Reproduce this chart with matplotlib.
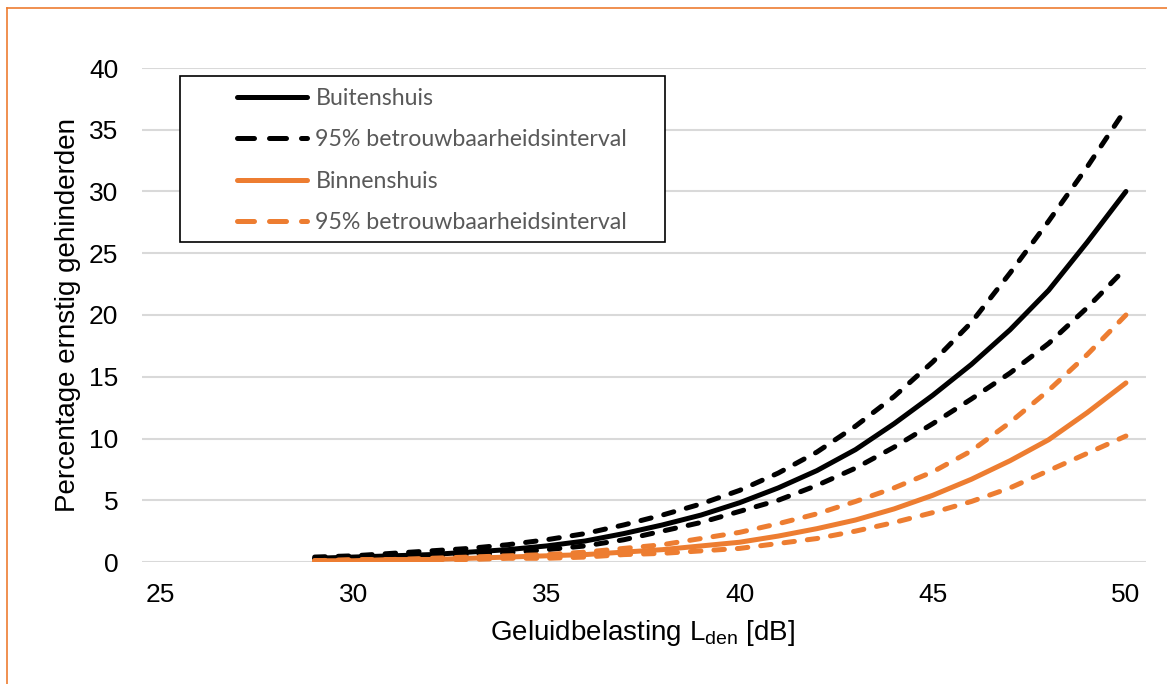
import numpy as np
import matplotlib
matplotlib.use('Agg')
import matplotlib.pyplot as plt
from matplotlib.lines import Line2D
from matplotlib.patches import Rectangle

# ---------------------------------------------------------------------------
# Data
# ---------------------------------------------------------------------------
lden = [29, 30, 31, 32, 33, 34, 35, 36, 37, 38, 39, 40,
        41, 42, 43, 44, 45, 46, 47, 48, 49, 50]

buiten = [0.3, 0.4, 0.5, 0.6, 0.8, 1.0, 1.3, 1.7, 2.3, 3.0, 3.8, 4.8,
          6.0, 7.4, 9.1, 11.2, 13.5, 16.0, 18.8, 22.0, 25.9, 30.0]
buiten_hi = [0.4, 0.5, 0.7, 0.9, 1.1, 1.4, 1.8, 2.3, 3.0, 3.8, 4.7, 5.8,
             7.2, 8.9, 11.0, 13.4, 16.2, 19.4, 23.4, 27.6, 32.0, 36.7]
buiten_lo = [0.2, 0.3, 0.4, 0.5, 0.6, 0.75, 1.0, 1.3, 1.8, 2.5, 3.2, 4.1,
             5.0, 6.2, 7.6, 9.3, 11.2, 13.2, 15.3, 17.7, 20.6, 23.8]

binnen = [0.1, 0.1, 0.2, 0.2, 0.3, 0.4, 0.5, 0.6, 0.8, 1.0, 1.3, 1.6,
          2.1, 2.7, 3.4, 4.3, 5.4, 6.7, 8.2, 9.9, 12.1, 14.5]
binnen_hi = [0.1, 0.2, 0.2, 0.3, 0.4, 0.5, 0.6, 0.8, 1.1, 1.4, 1.9, 2.4,
             3.1, 3.9, 4.9, 6.0, 7.3, 9.0, 11.3, 13.9, 16.8, 20.0]
binnen_lo = [0.1, 0.1, 0.1, 0.2, 0.2, 0.3, 0.3, 0.4, 0.6, 0.7, 0.9, 1.1,
             1.5, 1.9, 2.5, 3.2, 4.0, 4.9, 6.0, 7.4, 8.8, 10.2]

xticks = [25, 30, 35, 40, 45, 50]
yticks = [0, 5, 10, 15, 20, 25, 30, 35, 40]

legend_labels = ['Buitenshuis', '95% betrouwbaarheidsinterval',
                 'Binnenshuis', '95% betrouwbaarheidsinterval']

BLACK = '#000000'
ORANGE = '#ED7D31'
W, H = 1167, 684

# ---------------------------------------------------------------------------
# Layout
# ---------------------------------------------------------------------------
fig = plt.figure(figsize=(W / 100, H / 100), dpi=100)
ax = fig.add_axes([142 / W, 1 - 562 / H, (1146 - 142) / W, (562 - 68) / H])

lw = 3.6
dash = (2.1, 2.6)

ax.plot(lden, buiten, color=BLACK, lw=lw, solid_capstyle='round', zorder=3)
ax.plot(lden, buiten_hi, color=BLACK, lw=lw, dashes=dash,
        dash_capstyle='round', zorder=3)
ax.plot(lden, buiten_lo, color=BLACK, lw=lw, dashes=dash,
        dash_capstyle='round', zorder=3)
ax.plot(lden, binnen, color=ORANGE, lw=lw, solid_capstyle='round', zorder=4)
ax.plot(lden, binnen_hi, color=ORANGE, lw=lw, dashes=dash,
        dash_capstyle='round', zorder=4)
ax.plot(lden, binnen_lo, color=ORANGE, lw=lw, dashes=dash,
        dash_capstyle='round', zorder=4)

ax.set_xlim(24.53, 50.52)
ax.set_ylim(0, 40)
ax.set_xticks(xticks)
ax.set_yticks(yticks)
ax.tick_params(length=0, labelsize=19, labelcolor='#000000')
ax.tick_params(axis='y', pad=17)
ax.tick_params(axis='x', pad=15)
for lab in ax.get_xticklabels() + ax.get_yticklabels():
    lab.set_family('Liberation Sans')
ax.grid(axis='y', color='#D9D9D9', lw=1.5, zorder=0)
for s in ax.spines.values():
    s.set_visible(False)

fig.text(68 / W, 1 - 315 / H, 'Percentage ernstig gehinderden',
         rotation=90, ha='center', va='center', fontsize=20,
         family='Liberation Sans')
fig.text(643 / W, 1 - 633 / H,
         r'Geluidbelasting L$_{\mathregular{den}}$ [dB]',
         ha='center', va='center', fontsize=20, family='Liberation Sans')

# ---------------------------------------------------------------------------
# Legend (separate frame to mimic the Excel box)
# ---------------------------------------------------------------------------
fig.add_artist(Rectangle((180 / W, 1 - 242 / H), (665 - 180) / W,
                         (242 - 76) / H, transform=fig.transFigure,
                         facecolor='white', edgecolor='black', lw=1.2,
                         zorder=5))
leg_dash = (3.4, 3.0)
handles = [
    Line2D([], [], color=BLACK, lw=lw, solid_capstyle='round'),
    Line2D([], [], color=BLACK, lw=lw, dashes=leg_dash, dash_capstyle='round'),
    Line2D([], [], color=ORANGE, lw=lw, solid_capstyle='round'),
    Line2D([], [], color=ORANGE, lw=lw, dashes=leg_dash, dash_capstyle='round'),
]
leg = fig.legend(handles, legend_labels, loc='upper left',
                 bbox_to_anchor=(237 / W, 1 - 88 / H), frameon=False,
                 borderpad=0, borderaxespad=0, handlelength=3.0,
                 handletextpad=0.38, labelspacing=0.88,
                 prop={'family': 'Lato', 'size': 16.7})
leg.set_zorder(6)
for t in leg.get_texts():
    t.set_color('#595959')

# ---------------------------------------------------------------------------
# Orange chart border (top and left edges visible)
# ---------------------------------------------------------------------------
fig.add_artist(Line2D([7 / W, 1], [1 - 8 / H, 1 - 8 / H],
                      transform=fig.transFigure, color=ORANGE, lw=1.2))
fig.add_artist(Line2D([7 / W, 7 / W], [0, 1 - 8 / H],
                      transform=fig.transFigure, color=ORANGE, lw=1.2))

fig.savefig('out.png', dpi=100, facecolor='white')
